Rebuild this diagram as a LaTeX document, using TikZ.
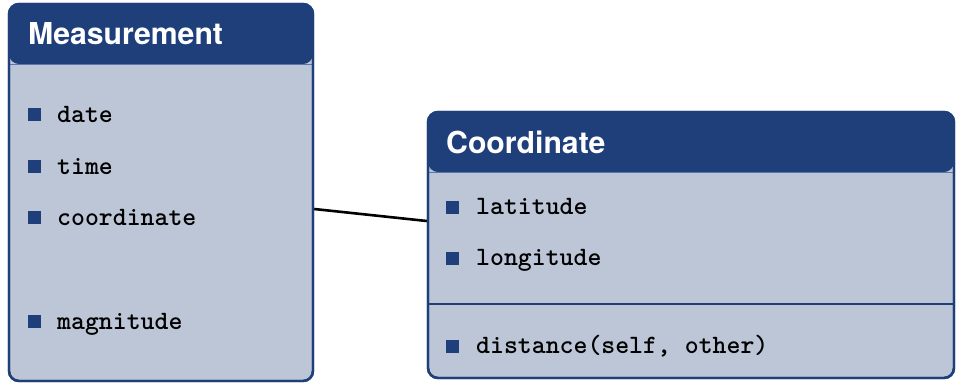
\documentclass[tikz,border=0pt]{standalone}
\usepackage{fontspec}
\newfontfamily\headfont{TeX Gyre Heros}
\definecolor{hdr}{RGB}{31,63,122}
\definecolor{bodyc}{RGB}{189,198,215}
\definecolor{hline}{RGB}{90,118,170}
\tikzset{
  umlbox/.style={draw=hdr, line width=2.4pt, fill=bodyc, rounded corners=10pt, inner sep=0pt},
  title/.style={anchor=base west, inner sep=0pt, text=white, font=\headfont\bfseries\fontsize{30.2}{31}\selectfont},
  item/.style={anchor=base west, inner sep=0pt, text=black, font=\ttfamily\bfseries\fontsize{26.5}{27}\selectfont},
  bullet/.style={fill=hdr},
  sepline/.style={draw=hdr, line width=2.2pt},
  conn/.style={draw=black, line width=2.6pt}
}
\begin{document}
\begin{tikzpicture}[x=1pt,y=-1pt]
\useasboundingbox (0,0) rectangle (957,384);
% Measurement box
\node[umlbox, minimum width=304pt, minimum height=377pt,
  path picture={\fill[hdr] (path picture bounding box.north west) rectangle ([yshift=-60pt]path picture bounding box.north east);
  \draw[hline, line width=1pt] ([yshift=-60pt]path picture bounding box.north west) -- ([yshift=-60pt]path picture bounding box.north east);}] (meas) at (161,192.5) {};
\node[umlbox, fill=none, minimum width=304pt, minimum height=377pt] (measb) at (161,192.5) {};
\node[title] (mtitle) at (28,44) {Measurement};
\foreach \n/\t/\b in {md/date/122, mt/time/174, mc/coordinate/225, mm/magnitude/329}{
  \fill[bullet] (28,\b-14) rectangle (41,\b-1);
  \node[item] (\n) at (57,\b) {\t};
}
% Coordinate box
\node[umlbox, minimum width=526pt, minimum height=266pt,
  path picture={\fill[hdr] (path picture bounding box.north west) rectangle ([yshift=-60pt]path picture bounding box.north east);
  \draw[hline, line width=1pt] ([yshift=-60pt]path picture bounding box.north west) -- ([yshift=-60pt]path picture bounding box.north east);}] (coord) at (691,245) {};
\node[umlbox, fill=none, minimum width=526pt, minimum height=266pt] (coordb) at (691,245) {};
\node[title] (ctitle) at (446,153) {Coordinate};
\coordinate (sepL) at (428,304);
\coordinate (sepR) at (954,304);
\draw[sepline] (sepL) -- (sepR);
\foreach \n/\t/\b in {cl/latitude/214, cg/longitude/265, cd/{distance(self, other)}/353}{
  \fill[bullet] (446,\b-13) rectangle (459,\b);
  \node[item] (\n) at (476,\b) {\t};
}
% connector
\draw[conn] ([yshift=-16.5pt]meas.east) -- ([yshift=24pt]coord.west);
\end{tikzpicture}
\end{document}
